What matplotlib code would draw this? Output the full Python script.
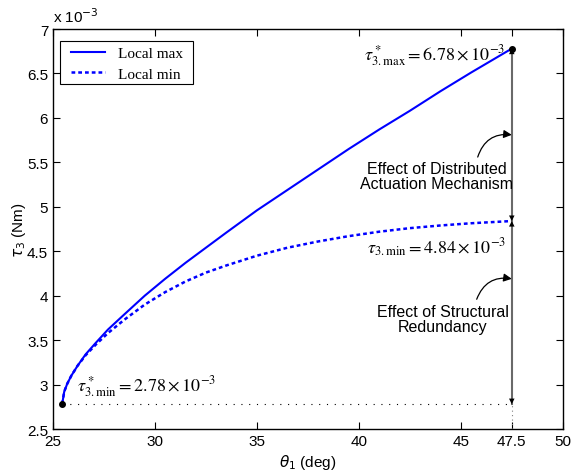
import matplotlib
matplotlib.use("Agg")
import matplotlib.pyplot as plt
from matplotlib.patches import Rectangle
import numpy as np

plt.rcParams['font.family'] = ['Liberation Sans', 'DejaVu Sans']
plt.rcParams['mathtext.fontset'] = 'stix'

theta = [25.45, 25.55, 25.7, 25.9, 26.2, 26.6, 27.1, 27.7, 28.5, 29.5, 30.5, 31.5, 32.5,
         33.5, 35, 36.5, 38, 39.5, 41, 42.5, 44, 45.5, 47.5]
tau_max = [2.78, 2.92, 3.01, 3.10, 3.21, 3.34, 3.47, 3.62, 3.79, 4.00, 4.19, 4.37, 4.54,
           4.71, 4.96, 5.19, 5.42, 5.65, 5.87, 6.08, 6.30, 6.51, 6.78]
tau_min = [2.78, 2.92, 3.01, 3.10, 3.21, 3.33, 3.45, 3.58, 3.73, 3.90, 4.04, 4.16, 4.26,
           4.34, 4.45, 4.54, 4.61, 4.67, 4.72, 4.76, 4.79, 4.815, 4.84]
xticks = [25, 30, 35, 40, 45, 47.5, 50]
xticklabels = ['25', '30', '35', '40', '45', '47.5', '50']
yticks = [2.5, 3, 3.5, 4, 4.5, 5, 5.5, 6, 6.5, 7]
yticklabels = ['2.5', '3', '3.5', '4', '4.5', '5', '5.5', '6', '6.5', '7']

fig = plt.figure(figsize=(5.76, 4.77), dpi=100)
ax = fig.add_axes([0.092, 0.0985, 0.885, 0.8385])

ax.plot(theta, tau_max, color='blue', lw=1.5, label='Local max')
ax.plot(theta, tau_min, color='blue', lw=1.8, linestyle=(0, (1.5, 1.2)), label='Local min')

x0, y0 = theta[0], tau_max[0]
x1, y1, ymid = theta[-1], tau_max[-1], tau_min[-1]

# reference dotted lines
ax.plot([x0, x1], [y0, y0], color='black', lw=0.8, linestyle=(0, (1, 6)))
ax.plot([x1, x1], [2.5, y0], color='gray', lw=0.8, linestyle=(0, (1, 3)))

# vertical gray line
ax.plot([x1, x1], [y0, y1], color='dimgray', lw=1.5, zorder=2)
arrowprops = dict(arrowstyle='<|-|>', color='black', lw=0, shrinkA=0, shrinkB=0,
                  mutation_scale=10)
ax.annotate('', xy=(x1, y1), xytext=(x1, ymid), arrowprops=arrowprops)
ax.annotate('', xy=(x1, y0), xytext=(x1, ymid), arrowprops=arrowprops)

ax.plot([x0, x1], [y0, y1], 'o', color='black', ms=4, zorder=5)

# curved arrows
ax.annotate('', xy=(x1, 5.81), xytext=(45.83, 5.56),
            arrowprops=dict(arrowstyle='-|>', color='black', lw=0.9, mutation_scale=12,
                            connectionstyle='arc3,rad=-0.4', shrinkA=0, shrinkB=0))
ax.annotate('', xy=(x1, 4.19), xytext=(45.78, 3.96),
            arrowprops=dict(arrowstyle='-|>', color='black', lw=0.9, mutation_scale=12,
                            connectionstyle='arc3,rad=-0.4', shrinkA=0, shrinkB=0))

ax.text(43.82, 5.35, 'Effect of Distributed\nActuation Mechanism', ha='center', va='center',
        fontsize=11.5, linespacing=1.0)
ax.text(44.1, 3.74, 'Effect of Structural\nRedundancy', ha='center', va='center',
        fontsize=11.5, linespacing=1.0)

ax.text(47.2, 6.71, r'$\tau^*_{3.\mathrm{max}} = 6.78\times10^{-3}$', ha='right', va='center',
        fontsize=13)
ax.text(47.2, 4.55, r'$\tau_{3.\mathrm{min}} = 4.84\times10^{-3}$', ha='right', va='center',
        fontsize=13)
ax.text(26.2, 2.99, r'$\tau^*_{3.\mathrm{min}} = 2.78\times10^{-3}$', ha='left', va='center',
        fontsize=13)

ax.set_xlim(25, 50)
ax.set_ylim(2.5, 7)
ax.set_xticks(xticks)
ax.set_xticklabels(xticklabels)
ax.set_yticks(yticks)
ax.set_yticklabels(yticklabels)
ax.tick_params(direction='in', top=True, right=True, labelsize=11, length=5, width=0.8)
for s in ax.spines.values():
    s.set_linewidth(1.0)

ax.set_xlabel(r'$\theta_1$ (deg)', fontsize=11, math_fontfamily='dejavusans', labelpad=3)
ax.set_ylabel(r'$\tau_3$ (Nm)', fontsize=11, math_fontfamily='dejavusans', labelpad=-1)
ax.text(0.0, 1.01, r'x 10$^{-3}$', transform=ax.transAxes, fontsize=11,
        math_fontfamily='dejavusans', ha='left', va='bottom')

# legend frame drawn separately (MATLAB-style box)
ax.add_patch(Rectangle((7 / 510, 1 - 55 / 400), 133 / 510, 43 / 400, transform=ax.transAxes,
                       facecolor='white', edgecolor='black', lw=0.8, zorder=4))
leg = ax.legend(loc='upper left', bbox_to_anchor=(18 / 510, 1 - 17.5 / 400), borderaxespad=0,
                prop={'family': 'Liberation Serif', 'size': 11}, frameon=False,
                borderpad=0, handlelength=2.2, handletextpad=0.9, labelspacing=0.45)
leg.set_zorder(5)

fig.savefig('out.png', dpi=100)
